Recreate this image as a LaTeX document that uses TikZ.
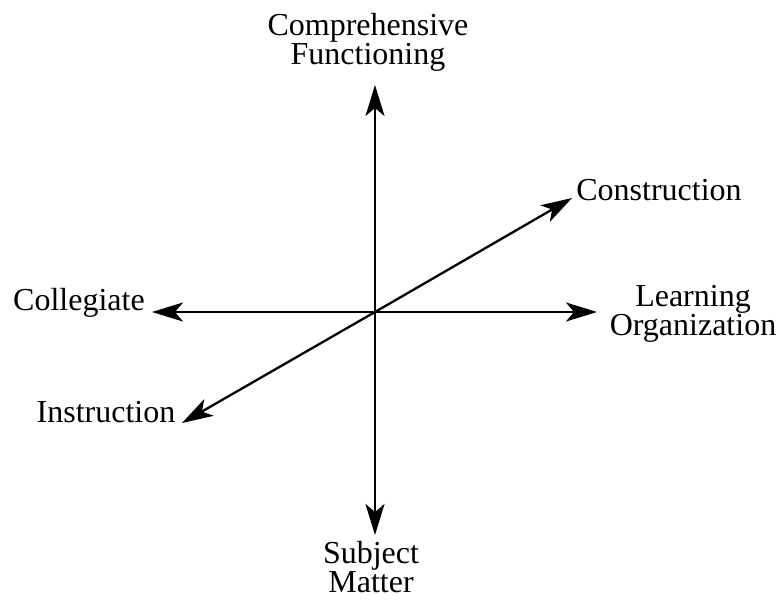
\documentclass[tikz,border=0pt]{standalone}
\usepackage{fontspec}
\setmainfont{Liberation Serif}
\usepackage{tikz}
\usetikzlibrary{arrows.meta}

\tikzset{
  axis/.style={-{Stealth[length=31pt,width=19pt,inset=8pt]}, line width=2.3pt},
  lbl/.style={align=center, inner sep=0pt, font=\fontsize{32}{29}\selectfont}
}

\begin{document}
\begin{tikzpicture}[x=1pt, y=-1pt, line cap=round, line join=round]
    \useasboundingbox (0,0) rectangle (778,601);

    % centre and the ends of the axes
    \coordinate (O)  at (375,312);
    \coordinate (N)  at (375,85);
    \coordinate (S)  at (375,535);
    \coordinate (W)  at (152,312);
    \coordinate (E)  at (597,312);
    \coordinate (NE) at (572,198);
    \coordinate (SW) at (182,423);

    %--- the three axes
    \draw[axis] (O) -- (N);
    \draw[axis] (O) -- (S);
    \draw[axis] (O) -- (W);
    \draw[axis] (O) -- (E);
    \draw[axis] (O) -- (NE);
    \draw[axis] (O) -- (SW);

    %--- labels at the ends
    \node[lbl] (comp)   at (368,42)  {Comprehensive\\Functioning};
    \node[lbl] (constr) at (659,190) {Construction};
    \node[lbl] (coll)   at (79,303)  {Collegiate};
    \node[lbl] (learn)  at (693,314) {Learning\\Organization};
    \node[lbl] (instr)  at (106,412) {Instruction};
    \node[lbl] (subj)   at (371,567) {Subject\\Matter};
\end{tikzpicture}
\end{document}
